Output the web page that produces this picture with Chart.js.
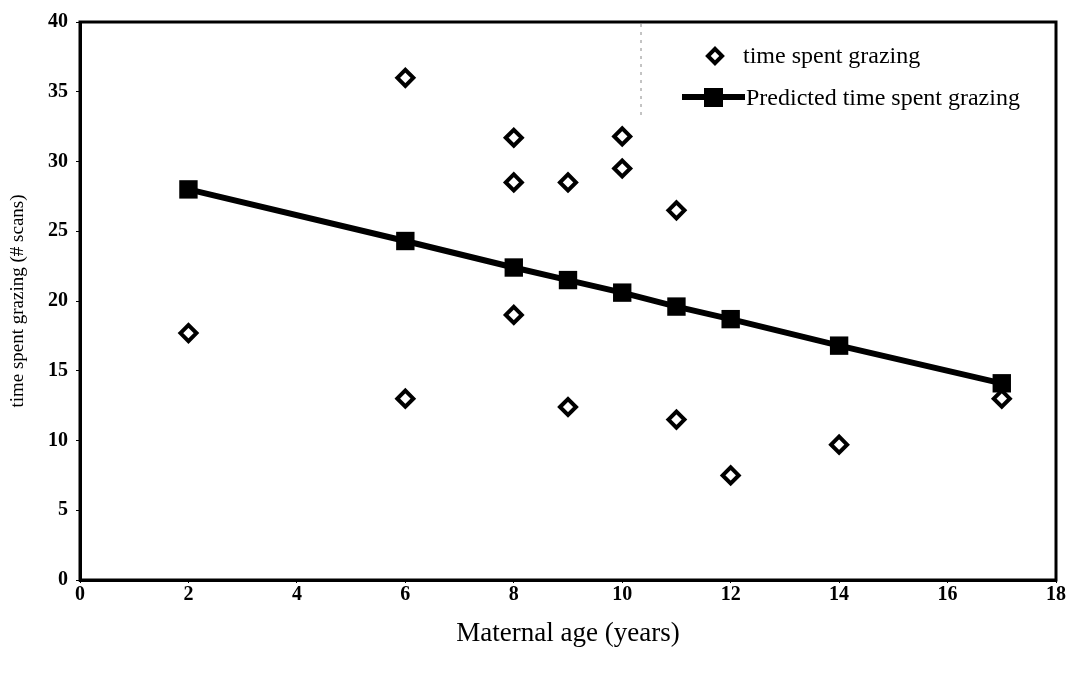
<!DOCTYPE html>
<html>
<head>
<meta charset="utf-8">
<script src="https://cdn.jsdelivr.net/npm/chart.js@4.4.0/dist/chart.umd.min.js"></script>
<style>
  html, body { margin: 0; padding: 0; background: #fff; }
  #wrap { width: 1076px; height: 675px; }
</style>
</head>
<body>
<div id="wrap"><canvas id="c" width="1076" height="675"></canvas></div>
<script>
// Observed data: maternal age vs time spent grazing
const obsAge   = [2, 6, 6, 8, 8, 8, 9, 9, 10, 10, 11, 11, 12, 14, 17];
const obsGraze = [17.7, 36.0, 13.0, 31.7, 28.5, 19.0, 28.5, 12.4, 31.8, 29.5, 26.5, 11.5, 7.5, 9.7, 13.0];

// Predicted values
const predAge   = [2, 6, 8, 9, 10, 11, 12, 14, 17];
const predGraze = [28.0, 24.3, 22.4, 21.5, 20.6, 19.6, 18.7, 16.8, 14.1];

const xTicks = [0, 2, 4, 6, 8, 10, 12, 14, 16, 18];
const yTicks = [0, 5, 10, 15, 20, 25, 30, 35, 40];

const seriesNames = ['time spent grazing', 'Predicted time spent grazing'];
const xTitle = 'Maternal age (years)';
const yTitle = 'time spent grazing (# scans)';

const FONT = '"Liberation Serif", "DejaVu Serif", serif';

const frame = {
  id: 'frame',
  afterDatasetsDraw(chart) {
    const { ctx, chartArea: a } = chart;
    ctx.save();
    ctx.strokeStyle = '#000';
    ctx.lineWidth = 3;
    ctx.strokeRect(a.left, a.top, a.right - a.left, a.bottom - a.top);
    ctx.restore();
  }
};

const legendBox = {
  id: 'legendBox',
  afterDraw(chart) {
    const { ctx, chartArea: a } = chart;
    ctx.save();
    // dashed left border of legend
    ctx.strokeStyle = '#888';
    ctx.lineWidth = 1;
    ctx.setLineDash([3, 5]);
    ctx.beginPath();
    ctx.moveTo(641, a.top + 2);
    ctx.lineTo(641, 118);
    ctx.stroke();
    ctx.setLineDash([]);

    ctx.font = '24px ' + FONT;
    ctx.fillStyle = '#000';
    ctx.textBaseline = 'middle';
    ctx.textAlign = 'left';

    // item 1: diamond
    const d0 = chart.data.datasets[0];
    ctx.save();
    ctx.translate(715, 56);
    ctx.rotate(Math.PI / 4);
    ctx.fillStyle = d0.backgroundColor;
    ctx.strokeStyle = d0.borderColor;
    ctx.lineWidth = d0.borderWidth;
    const s = 10;
    ctx.fillRect(-s / 2, -s / 2, s, s);
    ctx.strokeRect(-s / 2, -s / 2, s, s);
    ctx.restore();
    ctx.fillText(seriesNames[0], 743, 57);

    // item 2: line with square
    const d1 = chart.data.datasets[1];
    ctx.strokeStyle = d1.borderColor;
    ctx.lineWidth = d1.borderWidth;
    ctx.beginPath();
    ctx.moveTo(682, 97);
    ctx.lineTo(745, 97);
    ctx.stroke();
    ctx.fillStyle = d1.pointBackgroundColor;
    ctx.fillRect(704, 88, 19, 19);
    ctx.fillStyle = '#000';
    ctx.fillText(seriesNames[1], 746, 99);
    ctx.restore();
  }
};

new Chart(document.getElementById('c'), {
  type: 'scatter',
  data: {
    datasets: [
      {
        label: seriesNames[0],
        data: obsAge.map((x, i) => ({ x, y: obsGraze[i] })),
        pointStyle: 'rectRot',
        pointRadius: 8,
        pointHoverRadius: 8,
        backgroundColor: '#fff',
        borderColor: '#000',
        borderWidth: 4,
        showLine: false,
        order: 2
      },
      {
        label: seriesNames[1],
        data: predAge.map((x, i) => ({ x, y: predGraze[i] })),
        showLine: true,
        borderColor: '#000',
        borderWidth: 6,
        pointStyle: 'rect',
        pointRadius: 13,
        pointHoverRadius: 13,
        pointBackgroundColor: '#000',
        pointBorderColor: '#000',
        pointBorderWidth: 0,
        backgroundColor: '#000',
        order: 1
      }
    ]
  },
  options: {
    responsive: false,
    animation: false,
    events: [],
    layout: { padding: { top: 22, right: 20, left: 0, bottom: 0 } },
    plugins: { legend: { display: false }, tooltip: { enabled: false } },
    scales: {
      x: {
        type: 'linear',
        min: 0, max: 18,
        afterBuildTicks(scale) { scale.ticks = xTicks.map(v => ({ value: v })); },
        afterFit(scale) { scale.height = 95; },
        grid: { display: true, drawOnChartArea: false, drawTicks: true, tickLength: 3, color: '#000', lineWidth: 1 },
        border: { display: true, color: '#000', width: 3 },
        ticks: { color: '#000', font: { family: FONT, size: 20, weight: 'bold' }, padding: 0, maxRotation: 0 },
        title: { display: true, text: xTitle, color: '#000', font: { family: FONT, size: 27 }, padding: { top: 4, bottom: 25 } }
      },
      y: {
        type: 'linear',
        min: 0, max: 40,
        afterBuildTicks(scale) { scale.ticks = yTicks.map(v => ({ value: v })); },
        afterFit(scale) { scale.width = 80; },
        grid: { display: true, drawOnChartArea: false, drawTicks: true, tickLength: 4, color: '#000', lineWidth: 1 },
        border: { display: true, color: '#000', width: 3 },
        ticks: { color: '#000', font: { family: FONT, size: 20, weight: 'bold' }, padding: 8 },
        title: { display: true, text: yTitle, color: '#000', font: { family: FONT, size: 19 }, padding: { top: 7, bottom: 4 } }
      }
    }
  },
  plugins: [frame, legendBox]
});
</script>
</body>
</html>
